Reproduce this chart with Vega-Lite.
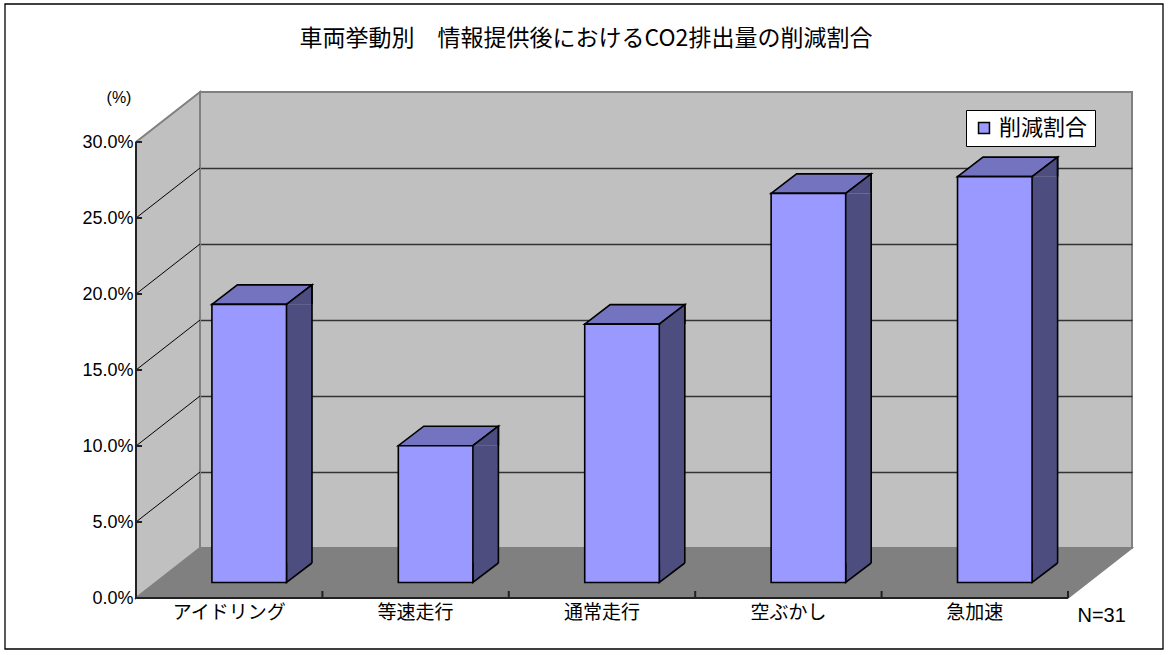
{
  "$schema": "https://vega.github.io/schema/vega-lite/v6.json",
  "width": 932,
  "height": 456,
  "autosize": {"type": "none"},
  "padding": {"left": 200, "top": 92, "right": 37, "bottom": 107},
  "background": "white",
  "title": {
    "text": "車両挙動別　情報提供後におけるCO2排出量の削減割合",
    "font": "Noto Sans CJK JP",
    "fontSize": 23,
    "fontWeight": "normal",
    "color": "black",
    "anchor": "middle",
    "frame": "group",
    "dx": -80,
    "dy": 50,
    "offset": 0
  },
  "config": {
    "view": {"fill": "#c0c0c0", "stroke": "#808080", "strokeWidth": 2},
    "font": "Noto Sans CJK JP"
  },
  "data": {
    "values": [
      {"挙動": "アイドリング", "削減割合": 0.183},
      {"挙動": "等速走行", "削減割合": 0.090},
      {"挙動": "通常走行", "削減割合": 0.170},
      {"挙動": "空ぶかし", "削減割合": 0.256},
      {"挙動": "急加速", "削減割合": 0.267}
    ]
  },
  "layer": [
    {
      "data": {"values": [{}]},
      "mark": {"type": "point", "shape": "M-466,0 L466,0 L402,50 L-530,50 Z", "size": 4, "filled": true, "fill": "#808080", "stroke": "#808080", "strokeWidth": 1.5, "opacity": 1},
      "encoding": {
        "y": {
          "datum": 0,
          "type": "quantitative",
          "scale": {"domain": [0, 0.3], "nice": false, "zero": true},
          "axis": {"orient": "left", "values": [0.05, 0.1, 0.15, 0.2, 0.25], "grid": true, "gridColor": "#333333", "gridWidth": 1.3, "gridOpacity": 1, "labels": false, "ticks": false, "domain": false, "title": null}
        }
      }
    },
    {
      "data": {"values": [{}]},
      "mark": {"type": "point", "shape": "M-466,0 L-466,-456 L-530,-406 L-530,50 Z", "size": 4, "filled": true, "fill": "#c0c0c0", "stroke": "#808080", "strokeWidth": 2, "opacity": 1},
      "encoding": {
        "y": {
          "datum": 0,
          "type": "quantitative",
          "axis": {
            "orient": "left",
            "zindex": 1,
            "values": [0, 0.05, 0.1, 0.15, 0.2, 0.25, 0.3],
            "format": ".1%",
            "offset": 63.5,
            "labelOffset": 50,
            "domain": false,
            "grid": false,
            "ticks": false,
            "labelFont": "Liberation Sans",
            "labelFontSize": 18,
            "labelColor": "black",
            "labelPadding": 3.5,
            "title": "(%)",
            "titleAngle": 0,
            "titleX": -18,
            "titleY": 5,
            "titleAlign": "center",
            "titleBaseline": "middle",
            "titleFont": "Liberation Sans",
            "titleFontSize": 16,
            "titleFontWeight": "normal",
            "titleColor": "black"
          }
        }
      }
    },
    {
      "data": {"values": [{}]},
      "mark": {"type": "point", "shape": "M-530,-26 L-466,-76 M-530,-102 L-466,-152 M-530,-178 L-466,-228 M-530,-254 L-466,-304 M-530,-330 L-466,-380", "size": 4, "filled": false, "stroke": "black", "strokeWidth": 1, "opacity": 1},
      "encoding": {"y": {"datum": 0, "type": "quantitative", "axis": null}}
    },
    {
      "data": {"values": [{}]},
      "mark": {"type": "point", "shape": "M-530,-406 L-530,50 L402,50 M-343.6,50 L-343.6,43 M-157.2,50 L-157.2,43 M29.2,50 L29.2,43 M215.6,50 L215.6,43 M402,50 L402,43 M-530,-26 L-524,-26 M-530,-102 L-524,-102 M-530,-178 L-524,-178 M-530,-254 L-524,-254 M-530,-330 L-524,-330 M-530,-406 L-524,-406", "size": 4, "filled": false, "stroke": "#222222", "strokeWidth": 2, "opacity": 1},
      "encoding": {"y": {"datum": 0, "type": "quantitative", "axis": null}}
    },
    {
      "data": {"values": [{}]},
      "mark": {"type": "point", "shape": "M-661,-544 L497,-544 L497,101 L-661,101 Z", "size": 4, "filled": false, "stroke": "black", "strokeWidth": 1.3, "opacity": 1},
      "encoding": {"y": {"datum": 0, "type": "quantitative", "axis": null}}
    },
    {
      "encoding": {
        "x": {
          "field": "挙動",
          "type": "nominal",
          "sort": null,
          "scale": {"paddingInner": 0, "paddingOuter": 0},
          "axis": {
            "orient": "bottom",
            "zindex": 1,
            "offset": 50,
            "labelOffset": -64,
            "ticks": false,
            "domain": false,
            "labelAngle": 0,
            "labelFont": "Noto Sans CJK JP",
            "labelFontSize": 19,
            "labelColor": "black",
            "labelPadding": 5,
            "title": "N=31",
            "titleX": 877,
            "titleY": 17,
            "titleAlign": "left",
            "titleBaseline": "middle",
            "titleFont": "Liberation Sans",
            "titleFontSize": 20,
            "titleFontWeight": "normal",
            "titleColor": "black"
          }
        }
      },
      "layer": [
        {
          "mark": {"type": "bar", "width": 25.5, "xOffset": 6, "x2Offset": 6, "yOffset": 34.5, "y2Offset": 15, "fill": "#4d4d80", "strokeWidth": 0},
          "encoding": {
            "y": {"field": "削減割合", "type": "quantitative", "axis": null},
            "y2": {"datum": 0}
          }
        },
        {
          "mark": {"type": "point", "shape": "M37.3,-19.5 L37.3,0 L62.8,-19.5", "size": 4, "filled": true, "fill": "#4d4d80", "stroke": "black", "strokeWidth": 1.6, "opacity": 1, "xOffset": -44, "yOffset": 34.5},
          "encoding": {"y": {"datum": 0, "type": "quantitative", "axis": null}}
        },
        {
          "mark": {"type": "point", "shape": "M-37.3,0 L37.3,0 L62.8,-19.5 L-11.8,-19.5 Z", "size": 4, "filled": true, "fill": "#7373bf", "stroke": "black", "strokeWidth": 1.6, "opacity": 1, "xOffset": -44, "yOffset": 34.5},
          "encoding": {"y": {"field": "削減割合", "type": "quantitative", "axis": null}}
        },
        {
          "mark": {"type": "point", "shape": "M37.3,0 L62.8,-19.5 L62.8,0", "size": 4, "filled": true, "fill": "#4d4d80", "stroke": "black", "strokeWidth": 1.6, "opacity": 1, "xOffset": -44, "yOffset": 34.5},
          "encoding": {"y": {"field": "削減割合", "type": "quantitative", "axis": null}}
        },
        {
          "mark": {"type": "rule", "stroke": "black", "strokeWidth": 1.6, "xOffset": 18.8, "yOffset": 15, "y2Offset": 15},
          "encoding": {
            "y": {"field": "削減割合", "type": "quantitative", "axis": null},
            "y2": {"datum": 0}
          }
        },
        {
          "mark": {"type": "bar", "width": {"band": 0.4}, "xOffset": -44, "x2Offset": -44, "yOffset": 34.5, "y2Offset": 34.5, "stroke": "black", "strokeWidth": 1.6, "opacity": 1},
          "encoding": {
            "y": {"field": "削減割合", "type": "quantitative", "axis": null},
            "color": {
              "datum": "削減割合",
              "type": "nominal",
              "scale": {"range": ["#9999ff"]},
              "legend": {
                "orient": "none",
                "legendX": 766,
                "legendY": 18,
                "title": null,
                "fillColor": "white",
                "strokeColor": "black",
                "padding": 7,
                "symbolType": "square",
                "symbolSize": 120,
                "symbolStrokeColor": "black",
                "symbolStrokeWidth": 1.5,
                "labelFont": "Noto Sans CJK JP",
                "labelFontSize": 22,
                "labelColor": "black",
                "labelLimit": 0
              }
            }
          }
        }
      ]
    }
  ],
  "resolve": {"axis": {"y": "independent"}}
}
